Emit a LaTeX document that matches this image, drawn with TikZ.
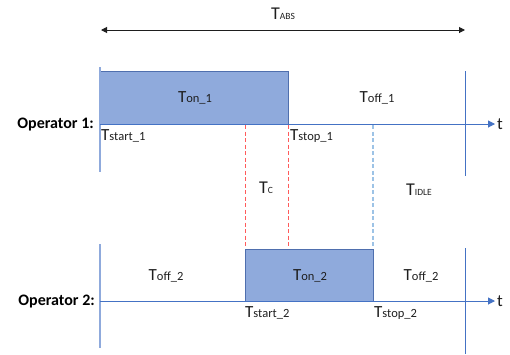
\documentclass[tikz,border=0pt]{standalone}
\usepackage{fontspec}
\setmainfont{Carlito}
\usetikzlibrary{arrows.meta}
\definecolor{axisblue}{HTML}{4472C4}
\definecolor{boxfill}{HTML}{8FAADC}
\definecolor{boxedge}{HTML}{4F6FAE}
\definecolor{lightline}{HTML}{8FAADC}
\definecolor{redmark}{HTML}{FF5B5B}
\definecolor{bluemark}{HTML}{9DC3E6}
\definecolor{inkgray}{HTML}{1E1E1E}
% T with a smaller trailing name, as in T_on_1
\newcommand{\tlab}[1]{{\fontsize{17}{17}\selectfont T}{\fontsize{12.5}{12.5}\selectfont #1}}
% T with a small upper-case name, as in T_ABS
\newcommand{\tcap}[1]{{\fontsize{18}{18}\selectfont T}{\fontsize{9.5}{9.5}\selectfont #1}}
\begin{document}
\begin{tikzpicture}[x=1pt,y=-1pt,
  onbox/.style={draw=boxedge, fill=boxfill, line width=1pt},
  timeaxis/.style={draw=axisblue, line width=1pt, -{Triangle[length=7pt,width=7pt]}},
  leftbar/.style={draw=lightline, line width=1.2pt},
  rightbar/.style={draw=axisblue, line width=1pt},
  redmarker/.style={draw=redmark, line width=0.9pt, dash pattern=on 4pt off 2.5pt},
  bluemarker/.style={draw=bluemark, line width=1.1pt, dash pattern=on 4pt off 2.5pt},
  span/.style={draw=inkgray, line width=1pt, {Triangle[length=6pt,width=6pt]}-{Triangle[length=6pt,width=6pt]}},
  lbl/.style={inner sep=0pt, text=inkgray},
  oplbl/.style={inner sep=0pt, anchor=base east, text=black, font=\fontsize{16}{16}\selectfont\bfseries},
  tlbl/.style={inner sep=0pt, anchor=base west, text=inkgray, font=\fontsize{17}{17}\selectfont}]
\useasboundingbox (0,0) rectangle (510,354);

% overall span
\coordinate (absL) at (101,30);
\coordinate (absR) at (465,30);
\draw[span] (absL) -- (absR);
\node[lbl, anchor=base] (tabs) at (283,19) {\tcap{ABS}};

% operator 1
\coordinate (on1a) at (100,71);
\coordinate (on1b) at (288,124);
\draw[onbox] (on1a) rectangle (on1b);
\coordinate (l1t) at (100,67);
\coordinate (l1b) at (100,172);
\draw[leftbar] (l1t) -- (l1b);
\coordinate (r1t) at (465,71);
\coordinate (r1b) at (465,176);
\draw[rightbar] (r1t) -- (r1b);
\coordinate (ax1s) at (100,124);
\coordinate (ax1e) at (495,124);
\draw[timeaxis] (ax1s) -- (ax1e);

% operator 2
\coordinate (on2a) at (245,249);
\coordinate (on2b) at (373,301);
\draw[onbox] (on2a) rectangle (on2b);
\coordinate (l2t) at (100,244);
\coordinate (l2b) at (100,348);
\draw[leftbar] (l2t) -- (l2b);
\coordinate (r2t) at (465,248);
\coordinate (r2b) at (465,354);
\draw[rightbar] (r2t) -- (r2b);
\coordinate (ax2s) at (100,301);
\coordinate (ax2e) at (495,301);
\draw[timeaxis] (ax2s) -- (ax2e);

% markers between the two time lines
\coordinate (m1t) at (245,125);
\coordinate (m1b) at (245,248);
\coordinate (m2t) at (288,125);
\coordinate (m2b) at (288,248);
\coordinate (m3t) at (373,125);
\coordinate (m3b) at (373,248);
\draw[redmarker] (m1t) -- (m1b);
\draw[redmarker] (m2t) -- (m2b);
\draw[bluemarker] (m3t) -- (m3b);

% labels
\node[oplbl] (op1) at (94,128) {Operator 1:};
\node[oplbl] (op2) at (95,305) {Operator 2:};
\node[tlbl] (t1) at (497,129) {t};
\node[tlbl] (t2) at (497,306) {t};

\node[lbl, anchor=base] (ton1) at (195,102) {\tlab{on\_1}};
\node[lbl, anchor=base] (toff1) at (377,102) {\tlab{off\_1}};
\node[lbl, anchor=base west] (tstart1) at (101,140) {\tlab{start\_1}};
\node[lbl, anchor=base west] (tstop1) at (290,140) {\tlab{stop\_1}};
\node[lbl, anchor=base] (tc) at (266,193) {\tcap{C}};
\node[lbl, anchor=base] (tidle) at (419,195) {\tcap{IDLE}};
\node[lbl, anchor=base] (toff2a) at (166,280) {\tlab{off\_2}};
\node[lbl, anchor=base] (ton2) at (310,280) {\tlab{on\_2}};
\node[lbl, anchor=base] (toff2b) at (421,280) {\tlab{off\_2}};
\node[lbl, anchor=base west] (tstart2) at (245,317) {\tlab{start\_2}};
\node[lbl, anchor=base west] (tstop2) at (374,317) {\tlab{stop\_2}};
\end{tikzpicture}
\end{document}
